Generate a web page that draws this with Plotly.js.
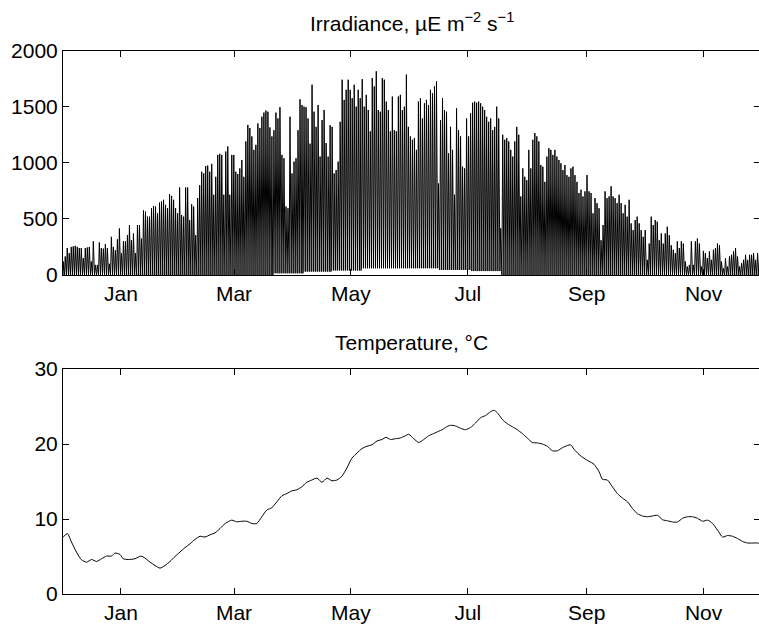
<!DOCTYPE html>
<html>
<head>
<meta charset="utf-8">
<script src="https://cdn.plot.ly/plotly-3.0.1.min.js"></script>
<style>
html,body{margin:0;padding:0;background:#ffffff;overflow:hidden;}
#chart{width:760px;height:630px;}
</style>
</head>
<body>
<div id="chart"></div>
<script>
// ---------------- data ----------------
// Axis window of the record and month ticks
const RECORD_START = '2009-12-01 19:00';
const RECORD_END = '2010-11-30 10:00';
const monthTickDates = ['2010-01-01', '2010-03-01', '2010-05-01', '2010-07-01', '2010-09-01', '2010-11-01'];
const monthTickLabels = ['Jan', 'Mar', 'May', 'Jul', 'Sep', 'Nov'];

// Irradiance: daily midday peak readings (µE m-2 s-1), taken at uniform steps
// from FIRST_READING_DAY to LAST_READING_DAY (days relative to 1 Jan 2010)
const FIRST_READING_DAY = -30.1;
const LAST_READING_DAY = 333.2;
const irradiancePeak = [
  120,165,240,195,250,255,260,250,240,240,150,240,245,250,120,300,90,90,290,240,
  235,275,240,100,340,250,220,318,415,195,300,300,355,445,310,370,195,445,445,325,
  575,565,520,520,595,615,610,550,645,655,670,625,595,720,705,670,595,550,780,535,
  520,780,780,490,630,610,355,685,800,920,905,970,975,920,990,715,875,1070,1080,1070,
  715,1100,1145,715,1070,1070,
  920,900,950,1025,875,1190,1337,1310,1235,1115,1160,1350,1310,1410,1447,1465,1455,1315,1235,1290,
  1447,1395,1495,1070,1040,610,595,1410,905,1010,1040,1290,1565,1515,1500,1495,1395,1170,1695,1455,
  1320,1515,1055,1380,1470,1175,1055,1335,1320,905,935,1010,1365,1740,1560,1650,1740,1650,1575,1695,
  1500,1650,1575,1745,1500,1605,1470,1280,1755,1680,1815,1470,1455,1755,1740,1545,1470,1280,1590,1290,
  1280,1590,1605,1470,1500,
  1785,1320,1235,1205,1220,1115,1545,1575,1395,1530,1560,1515,1650,1620,1680,1725,815,1380,1575,1470,
  1455,1085,1320,1115,715,1485,1290,1235,965,950,1395,1235,1440,1535,1545,1535,1545,1530,1500,1470,
  1410,1365,1395,1290,1320,1500,1395,415,1250,1205,1220,1190,1115,1055,1190,1320,1250,700,950,875,
  845,1115,950,1205,1265,1235,1190,980,965,830,1055,1130,1115,1070,1115,1055,1025,995,935,980,
  890,875,950,965,890,830,730,760,700,
  745,890,745,730,550,685,640,595,310,445,745,685,700,790,700,685,640,715,640,550,
  625,520,670,460,400,490,520,460,400,340,400,135,280,520,445,490,475,310,370,280,
  370,430,355,265,225,195,300,240,300,280,120,75,90,300,90,300,325,280,75,215,
  195,150,210,135,225,240,280,265,120,60,150,75,165,180,210,240,165,75,105,135,
  180,135,180,180,195,135,195,150
];
// Night-time floor of the irradiance signal (value holds from the given day on)
const nightFloorFromDay = [-40, 79, 95, 110, 125, 166, 183, 199];
const nightFloorValue   = [0, 15, 30, 40, 60, 45, 35, 0];

// Temperature (°C) readings, day relative to 1 Jan 2010
const temperatureDay = [
  -30.1,-27.9,-25.8,-23.2,-20.6,-17.9,-15.3,-12.7,-10.1,-7.5,-4.9,-3.1,-0.5,1.2,3.8,7.3,10.5,12.5,15.2,17.8,
  20.4,23.0,25.6,28.2,30.8,33.4,36.1,38.7,41.3,43.9,46.5,49.1,51.7,54.4,57.8,60.4,63.1,65.7,68.3,70.9,
  73.5,76.1,78.7,81.4,84.0,86.6,89.2,91.8,94.4,97.0,99.6,102.3,104.9,107.5,110.1,112.7,115.3,117.9,120.5,123.2,
  125.8,128.4,131.0,133.6,136.2,138.3,140.6,143.2,145.8,148.4,150.2,152.8,155.4,158.0,160.6,163.2,165.8,167.6,169.3,171.9,
  174.6,177.2,179.8,182.4,185.0,187.6,190.2,192.8,194.6,196.3,198.9,201.6,204.2,206.8,209.4,212.0,214.6,217.2,219.8,222.5,
  225.1,227.7,230.3,232.9,234.6,236.4,239.0,241.6,244.2,246.8,249.5,251.2,253.8,256.4,259.0,261.6,264.3,266.9,269.5,272.1,
  274.7,277.3,279.9,282.6,285.2,287.8,290.4,293.0,295.6,298.2,300.8,303.5,306.1,308.7,311.3,313.9,316.5,319.1,321.7,324.4,
  327.0,329.6,332.2,333.4
];
const temperatureValue = [
  7.6,8.06,6.94,5.6,4.57,4.25,4.6,4.34,4.7,5.06,5.06,5.46,5.28,4.7,4.6,4.7,5.06,4.8,4.25,3.8,
  3.45,3.8,4.34,5.0,5.6,6.18,6.7,7.3,7.7,7.6,7.9,8.15,8.73,9.4,9.85,9.63,9.7,9.7,9.4,9.4,
  10.3,11.2,11.5,12.3,13.1,13.4,13.75,13.9,14.3,14.9,15.2,15.45,14.9,15.45,15.1,15.2,15.7,16.8,18.1,18.8,
  19.4,19.7,19.9,20.4,20.6,20.9,20.6,20.7,20.8,21.1,21.3,20.7,20.2,20.6,21.1,21.4,21.7,21.9,22.2,22.5,
  22.4,22.1,21.9,22.2,22.8,23.5,23.8,24.3,24.5,24.2,23.3,22.7,22.3,21.9,21.4,20.8,20.2,20.15,20.0,19.7,
  19.1,19.1,19.5,19.8,19.9,19.3,18.6,18.1,17.7,17.3,16.3,15.3,15.2,14.3,13.4,12.8,12.3,11.4,10.7,10.4,
  10.3,10.4,10.5,9.9,9.76,9.6,9.6,10.1,10.3,10.3,10.1,9.7,9.85,9.4,8.5,7.6,7.8,7.7,7.4,7.0,
  6.8,6.8,6.8,6.7
];

// ---------------- build ----------------
const DAY_MS = 86400000;
const BASE_MS = Date.UTC(2010, 0, 1);
function dayToDate(d) {
  return new Date(BASE_MS + d * DAY_MS).toISOString().slice(0, 19).replace('T', ' ');
}
function nightFloor(d) {
  let v = nightFloorValue[0];
  for (let k = 0; k < nightFloorFromDay.length; k++) {
    if (d >= nightFloorFromDay[k]) v = nightFloorValue[k];
  }
  return v;
}
const SUNLIT_HALF_DAY = 0.42;
const irrX = [], irrY = [];
const nReadings = irradiancePeak.length;
const readingStep = (LAST_READING_DAY - FIRST_READING_DAY) / (nReadings - 1);
for (let i = 0; i < nReadings; i++) {
  const t = FIRST_READING_DAY + i * readingStep;
  const f = nightFloor(t);
  irrX.push(dayToDate(t - SUNLIT_HALF_DAY)); irrY.push(f);
  irrX.push(dayToDate(t)); irrY.push(irradiancePeak[i]);
  irrX.push(dayToDate(t + SUNLIT_HALF_DAY)); irrY.push(f);
}
const tempX = temperatureDay.map(dayToDate);

const FONT = 'Liberation Sans, Arial, Helvetica, sans-serif';

const xCommon = {
  type: 'date',
  range: [RECORD_START, RECORD_END],
  tickmode: 'array',
  tickvals: monthTickDates,
  ticktext: monthTickLabels,
  ticks: 'inside',
  ticklen: 6,
  tickwidth: 1,
  tickcolor: '#000',
  showline: true,
  linecolor: '#000',
  linewidth: 1,
  mirror: 'ticks',
  showgrid: false,
  zeroline: false,
  tickfont: {family: FONT, size: 21, color: '#000'},
  fixedrange: true
};
const yCommon = {
  ticks: 'inside',
  ticklen: 6,
  tickwidth: 1,
  tickcolor: '#000',
  showline: true,
  linecolor: '#000',
  linewidth: 1,
  mirror: 'ticks',
  showgrid: false,
  zeroline: false,
  tickfont: {family: FONT, size: 21, color: '#000'},
  fixedrange: true
};

const traces = [
  {
    x: irrX, y: irrY, type: 'scatter', mode: 'lines',
    line: {color: '#000', width: 1},
    xaxis: 'x', yaxis: 'y', hoverinfo: 'skip'
  },
  {
    x: tempX, y: temperatureValue, type: 'scatter', mode: 'lines',
    line: {color: '#000', width: 1, shape: 'spline', smoothing: 0.6},
    xaxis: 'x2', yaxis: 'y2', hoverinfo: 'skip'
  }
];

const layout = {
  width: 760,
  height: 630,
  margin: {l: 63, r: 0, t: 0, b: 0},
  paper_bgcolor: '#fff',
  plot_bgcolor: '#fff',
  showlegend: false,
  xaxis: Object.assign({}, xCommon, {domain: [0, 1], anchor: 'y'}),
  yaxis: Object.assign({}, yCommon, {domain: [0.5635, 0.9198], anchor: 'x', range: [0, 2000], tickvals: [0, 500, 1000, 1500, 2000]}),
  xaxis2: Object.assign({}, xCommon, {domain: [0, 1], anchor: 'y2'}),
  yaxis2: Object.assign({}, yCommon, {domain: [0.0571, 0.4143], anchor: 'x2', range: [0, 30], tickvals: [0, 10, 20, 30]}),
  annotations: [
    {
      text: 'Irradiance, \u00b5E m<sup>\u22122</sup> s<sup>\u22121</sup>',
      xref: 'paper', yref: 'paper', x: 0.5, y: 1 - 22 / 630,
      xanchor: 'center', yanchor: 'middle', showarrow: false,
      font: {family: FONT, size: 21, color: '#000'}
    },
    {
      text: 'Temperature, \u00b0C',
      xref: 'paper', yref: 'paper', x: 0.5, y: 1 - 343 / 630,
      xanchor: 'center', yanchor: 'middle', showarrow: false,
      font: {family: FONT, size: 21, color: '#000'}
    }
  ]
};

Plotly.newPlot('chart', traces, layout, {staticPlot: true, displayModeBar: false});
</script>
</body>
</html>
